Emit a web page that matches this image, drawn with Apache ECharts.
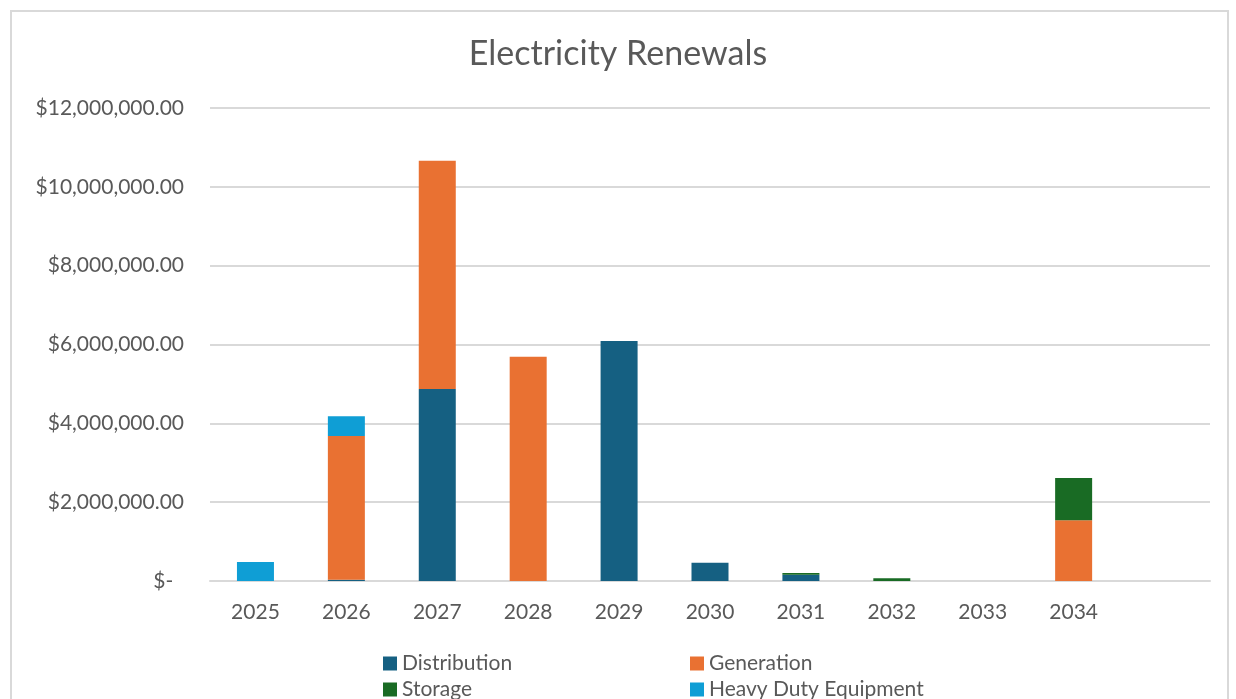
<!DOCTYPE html>
<html><head><meta charset="utf-8">
<script src="https://cdn.jsdelivr.net/npm/echarts@6/dist/echarts.min.js"></script>
<style>
html,body{margin:0;padding:0;background:#fff;overflow:hidden;width:1236px;height:699px;}
#frame{position:absolute;left:10px;top:10px;width:1219px;height:700px;border:2px solid #d9d9d9;box-sizing:border-box;}
#c{position:absolute;left:0;top:0;width:1236px;height:730px;}
</style></head>
<body>
<div id="frame"></div>
<div id="c"></div>
<script>
const categories = ['2025','2026','2027','2028','2029','2030','2031','2032','2033','2034',''];
const distribution = [0, 30000, 4870000, 0, 6090000, 460000, 160000, 0, 0, 0, 0];
const generation   = [0, 3650000, 5790000, 5690000, 0, 0, 0, 0, 0, 1540000, 0];
const storage      = [0, 0, 0, 0, 0, 0, 40000, 70000, 0, 1070000, 0];
const heavyDuty    = [480000, 500000, 0, 0, 0, 0, 0, 0, 0, 0, 0];
const yTicks = [0, 2000000, 4000000, 6000000, 8000000, 10000000, 12000000];

const chart = echarts.init(document.getElementById('c'));
const font = 'Lato, "Open Sans", sans-serif';
function fmt(v){
  if (v === 0) return '$-  ';
  return '$' + v.toLocaleString('en-US',{minimumFractionDigits:2, maximumFractionDigits:2});
}
const mk = (name, data, color) => ({
  name, type:'bar', stack:'t', data, barWidth:37,
  itemStyle:{color}, emphasis:{disabled:true}
});
chart.setOption({
  animation:false,
  textStyle:{fontFamily:font},
  title:{text:'Electricity Renewals', left:'center', top:32,
    textStyle:{fontSize:34, fontWeight:'normal', color:'#595959', fontFamily:font}},
  grid:{left:210, right:26, top:108, bottom:149},
  legend:[
    {data:['Distribution','Storage'], orient:'vertical', left:383, top:653, itemWidth:14, itemHeight:14, itemGap:5,
     icon:'rect', textStyle:{fontSize:21, color:'#595959', lineHeight:21}, itemTextGap:5, padding:0, selectedMode:false},
    {data:['Generation','Heavy Duty Equipment'], orient:'vertical', left:690, top:653, itemWidth:14, itemHeight:14, itemGap:5,
     icon:'rect', textStyle:{fontSize:21, color:'#595959', lineHeight:21}, itemTextGap:5, padding:0, selectedMode:false}
  ],
  xAxis:{type:'category', data:categories,
    axisLine:{lineStyle:{color:'#d9d9d9', width:2}}, axisTick:{show:false},
    axisLabel:{fontSize:21, color:'#595959', margin:21}},
  yAxis:{type:'value', min:0, max:12000000, interval:2000000,
    axisLine:{show:false}, axisTick:{show:false},
    splitLine:{lineStyle:{color:'#d9d9d9', width:2}},
    axisLabel:{fontSize:21, color:'#595959', margin:26, formatter:fmt}},
  series:[
    mk('Distribution', distribution, '#156082'),
    mk('Generation', generation, '#E97132'),
    mk('Storage', storage, '#196B24'),
    mk('Heavy Duty Equipment', heavyDuty, '#0F9ED5')
  ]
});
</script>
</body></html>
